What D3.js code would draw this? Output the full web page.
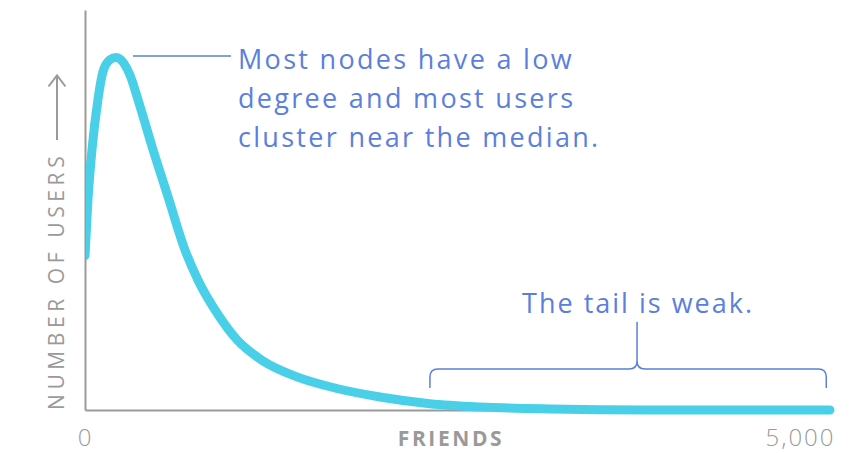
<!DOCTYPE html>
<html>
<head>
<meta charset="utf-8">
<script src="https://cdn.jsdelivr.net/npm/d3@7"></script>
<style>
  body { margin: 0; background: #fff; }
  svg { display: block; }
</style>
</head>
<body>
<svg id="chart"></svg>
<script>
// Data
const friends = [0, 20, 47, 87, 121, 168, 208, 262, 302, 356, 456, 557, 671, 758, 886, 1020, 1195, 1423, 1691, 1980, 2315, 2651, 3121, 3792, 5000];
const users   = [43.8, 59.7, 73.9, 88.1, 96, 99.4, 100, 98.3, 95, 88, 73.9, 60.5, 45.4, 36.9, 27.5, 19.9, 13.9, 9.4, 6.1, 3.7, 1.8, 0.85, 0.28, 0, 0];
const xTicks = [0, 5000];
const peakNote = ["Most nodes have a low", "degree and most users", "cluster near the median."];
const tailNote = "The tail is weak.";
const tailRange = [2315, 4975];
const tailMid = 3705;

const width = 856, height = 453;
const blue = "#5b80dc", cyan = "#4acfe8", grey = "#9a9a9a";
const font = "'Open Sans', sans-serif";

const data = friends.map((f, i) => ({ f: f, u: users[i] }));

const svg = d3.select("#chart").attr("width", width).attr("height", height);

const x = d3.scaleLinear().domain([0, 5000]).range([85, 830]);
const y = d3.scaleLinear().domain([0, 100]).range([410, 57.5]);

// Axes
const xAxis = svg.append("g")
    .attr("transform", "translate(0,410)")
    .call(d3.axisBottom(x).tickValues(xTicks).tickSize(0).tickSizeOuter(0)
        .tickFormat(d3.format(",")));
xAxis.select(".domain").attr("stroke", grey).attr("stroke-width", 2);
xAxis.selectAll(".tick text")
    .attr("dy", null).attr("y", 36)
    .attr("fill", grey)
    .style("font-family", font).style("font-size", "24px").style("font-weight", 300)
    .style("letter-spacing", "2px");
xAxis.selectAll(".tick text").filter(d => d === 5000)
    .attr("text-anchor", "end").attr("dx", 5);

const yAxis = svg.append("g")
    .attr("transform", "translate(85,0)")
    .call(d3.axisLeft(d3.scaleLinear().range([410, 10])).ticks(0).tickSize(0).tickSizeOuter(0));
yAxis.select(".domain").attr("stroke", grey).attr("stroke-width", 2);

// Axis titles
svg.append("text")
    .attr("x", 451).attr("y", 446)
    .attr("text-anchor", "middle")
    .attr("fill", grey)
    .style("font-family", font).style("font-size", "21px").style("font-weight", 700)
    .style("letter-spacing", "2.6px")
    .text("FRIENDS");

svg.append("text")
    .attr("transform", "translate(64,410)rotate(-90)")
    .attr("fill", grey)
    .style("font-family", font).style("font-size", "21px").style("font-weight", 400)
    .style("letter-spacing", "4.6px")
    .text("NUMBER OF USERS");

// Arrow on the y title
svg.append("path")
    .attr("d", "M57,140V76M48.5,86.5L57,75.5L65.5,86.5")
    .attr("fill", "none").attr("stroke", grey).attr("stroke-width", 2);

// Curve
svg.append("clipPath").attr("id", "clip")
    .append("rect").attr("x", 86).attr("y", 0).attr("width", width).attr("height", height);

const line = d3.line()
    .x(d => x(d.f)).y(d => y(d.u))
    .curve(d3.curveMonotoneX);

svg.append("path")
    .datum(data)
    .attr("clip-path", "url(#clip)")
    .attr("d", line)
    .attr("fill", "none")
    .attr("stroke", cyan)
    .attr("stroke-width", 9)
    .attr("stroke-linecap", "round")
    .attr("stroke-linejoin", "round");

// Peak annotation
svg.append("line")
    .attr("x1", x(208) + 17).attr("x2", 231)
    .attr("y1", 56).attr("y2", 56)
    .attr("stroke", blue).attr("stroke-width", 1.5);

svg.append("text")
    .attr("x", 238).attr("y", 69)
    .attr("fill", blue)
    .style("font-family", font).style("font-size", "27px")
    .style("letter-spacing", "2.3px")
    .selectAll("tspan")
    .data(peakNote)
    .join("tspan")
    .attr("x", 238)
    .attr("dy", (d, i) => i === 0 ? 0 : 39)
    .text(d => d);

// Tail annotation with bracket
const bx0 = x(tailRange[0]), bx1 = x(tailRange[1]), bm = x(tailMid);
const by = 369, r = 8;
svg.append("path")
    .attr("d", `M${bx0},388V${by + r}Q${bx0},${by} ${bx0 + r},${by}H${bm - r}Q${bm},${by} ${bm},${by - r}V322` +
               `M${bm},${by - r}Q${bm},${by} ${bm + r},${by}H${bx1 - r}Q${bx1},${by} ${bx1},${by + r}V388`)
    .attr("fill", "none").attr("stroke", blue).attr("stroke-width", 1.5);

svg.append("text")
    .attr("x", bm + 1).attr("y", 313)
    .attr("text-anchor", "middle")
    .attr("fill", blue)
    .style("font-family", font).style("font-size", "27px")
    .style("letter-spacing", "2px")
    .text(tailNote);
</script>
</body>
</html>
